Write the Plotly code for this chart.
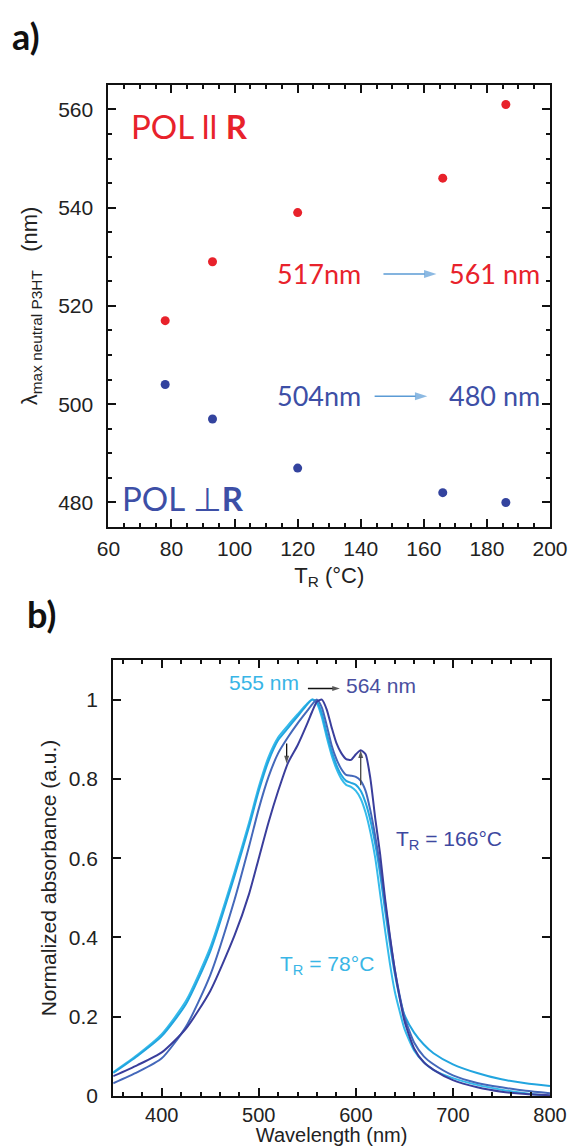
import plotly.graph_objects as go

# ---------------- panel a data ----------------
t_r = [78, 93, 120, 166, 186]
lam_par = [517, 529, 539, 546, 561]
lam_perp = [504, 497, 487, 482, 480]

# ---------------- panel b data ----------------
wavelength = [350, 375, 400, 425, 450, 475, 490, 500, 510, 520, 530, 540, 550, 555, 560,
              565, 570, 575, 580, 585, 590, 595, 600, 605, 610, 615, 620, 625, 630, 635,
              640, 645, 650, 660, 670, 680, 700, 725, 750, 775, 800]
abs_78 = [0.060, 0.104, 0.156, 0.240, 0.375, 0.565, 0.690, 0.780, 0.855, 0.905, 0.935, 0.963,
          0.990, 1.000, 0.990, 0.955, 0.905, 0.860, 0.825, 0.800, 0.785, 0.780, 0.770, 0.750,
          0.715, 0.665, 0.600, 0.510, 0.420, 0.335, 0.265, 0.215, 0.170, 0.115, 0.085, 0.066,
          0.045, 0.028, 0.016, 0.007, 0.000]
abs_93 = [0.058, 0.101, 0.151, 0.232, 0.365, 0.555, 0.680, 0.770, 0.845, 0.898, 0.928, 0.958,
          0.988, 1.000, 0.995, 0.965, 0.915, 0.870, 0.835, 0.810, 0.795, 0.790, 0.785, 0.770,
          0.740, 0.695, 0.635, 0.560, 0.470, 0.385, 0.310, 0.250, 0.205, 0.160, 0.130, 0.108,
          0.080, 0.058, 0.042, 0.032, 0.025]
abs_120 = [0.032, 0.060, 0.095, 0.175, 0.305, 0.495, 0.630, 0.725, 0.805, 0.865, 0.905, 0.940,
           0.972, 0.988, 1.000, 0.980, 0.935, 0.885, 0.850, 0.825, 0.810, 0.808, 0.805, 0.795,
           0.770, 0.720, 0.655, 0.580, 0.490, 0.400, 0.320, 0.255, 0.200, 0.135, 0.100, 0.080,
           0.052, 0.033, 0.022, 0.013, 0.007]
abs_166 = [0.050, 0.078, 0.110, 0.170, 0.265, 0.405, 0.510, 0.600, 0.690, 0.770, 0.840, 0.885,
           0.940, 0.970, 0.995, 1.000, 0.975, 0.930, 0.890, 0.865, 0.850, 0.848, 0.862, 0.872,
           0.862, 0.800, 0.700, 0.610, 0.500, 0.405, 0.320, 0.250, 0.190, 0.120, 0.085, 0.066,
           0.040, 0.022, 0.011, 0.005, 0.002]

# arrow end points (tail -> head), in data units of each panel
arrows_a = [([147.2, 164.0], [526.5, 526.5]), ([144.4, 161.1], [501.6, 501.6])]
arrows_b = [([550.6, 583.5], [1.028, 1.028], '#111111'),
            ([528.7, 528.7], [0.889, 0.839], '#111111'),
            ([605.0, 605.0], [0.784, 0.872], '#444444')]

RED = '#e8222b'
BLUE = '#33439e'
TXT_BLUE = '#3d4fa6'
ARROW_BLUE = '#5b9bd5'
C78 = '#35bbeb'
C93 = '#22a5df'
C120 = '#4468ba'
C166 = '#3a3e9c'

fig = go.Figure()

fig.add_trace(go.Scatter(x=t_r, y=lam_par, mode='markers', xaxis='x', yaxis='y',
                         marker=dict(color=RED, size=9), showlegend=False))
fig.add_trace(go.Scatter(x=t_r, y=lam_perp, mode='markers', xaxis='x', yaxis='y',
                         marker=dict(color=BLUE, size=9), showlegend=False))

for vals, col in [(abs_78, C78), (abs_93, C93), (abs_120, C120), (abs_166, C166)]:
    fig.add_trace(go.Scatter(x=wavelength, y=vals, mode='lines', xaxis='x2', yaxis='y2',
                             line=dict(color=col, width=2, shape='spline', smoothing=0.6),
                             showlegend=False, hoverinfo='skip'))

for xs, ys in arrows_a:
    fig.add_trace(go.Scatter(x=xs, y=ys, mode='lines+markers', xaxis='x', yaxis='y',
                             line=dict(color=ARROW_BLUE, width=1.5),
                             marker=dict(symbol=['circle', 'arrow'], size=[0, 13],
                                         angleref='previous', color=ARROW_BLUE,
                                         line=dict(width=0)),
                             showlegend=False, hoverinfo='skip'))
for xs, ys, col in arrows_b:
    fig.add_trace(go.Scatter(x=xs, y=ys, mode='lines+markers', xaxis='x2', yaxis='y2',
                             line=dict(color=col, width=1.3),
                             marker=dict(symbol=['circle', 'arrow'], size=[0, 8],
                                         angleref='previous', color='#111111',
                                         line=dict(width=0)),
                             showlegend=False, hoverinfo='skip'))

TICKFONT = dict(family='Liberation Sans, Arial, sans-serif', size=21, color='#222')
AX = dict(showline=True, linecolor='#111', linewidth=2, mirror='allticks', ticks='inside',
          tickcolor='#111', tickwidth=2, ticklen=8, showgrid=False, zeroline=False,
          tickfont=TICKFONT, automargin=False)
MINOR = dict(ticks='inside', ticklen=4, tickwidth=1.5, tickcolor='#111')

fig.update_layout(
    width=570, height=1146,
    margin=dict(l=0, r=0, t=0, b=0),
    paper_bgcolor='white', plot_bgcolor='white',
    xaxis=dict(AX, domain=[0.1902, 0.9649], anchor='y', range=[60, 200], tick0=60, dtick=20,
               minor=dict(MINOR, dtick=5), ticklabelstandoff=2,
               title=dict(text='T<sub>R</sub> (°C)', standoff=8,
                          font=dict(family='Liberation Sans, Arial', size=22, color='#222'))),
    yaxis=dict(AX, domain=[0.5401, 0.9260], anchor='x', range=[475, 565], tick0=480, dtick=20,
               minor=dict(MINOR, dtick=5), ticklabelstandoff=9,
               title=dict(text='λ<sub>max neutral P3HT</sub>\u00a0\u00a0\u00a0(nm)', standoff=14,
                          font=dict(family='Liberation Sans, Arial', size=22, color='#222'))),
    xaxis2=dict(AX, domain=[0.1986, 0.9649], anchor='y2', range=[350, 800], tick0=400, dtick=100,
                minor=dict(MINOR, dtick=20), ticklabelstandoff=0,
                tickfont=dict(TICKFONT, size=20),
                title=dict(text='Wavelength (nm)', standoff=2,
                           font=dict(family='Liberation Sans, Arial', size=20, color='#222'))),
    yaxis2=dict(AX, domain=[0.04363, 0.4241], anchor='x2', range=[0, 1.1],
                tickvals=[0, 0.2, 0.4, 0.6, 0.8, 1.0], ticktext=['0', '0.2', '0.4', '0.6', '0.8', '1'],
                ticklabelstandoff=9,
                title=dict(text='Normalized absorbance (a.u.)', standoff=6,
                           font=dict(family='Liberation Sans, Arial', size=21, color='#222'))),
)

CAL = 'Lato, Open Sans, sans-serif'
ann = []
ann.append(dict(text='<b>a)</b>', x=10 / 570, y=1 - 36 / 1146, xref='paper', yref='paper',
                xanchor='left', yanchor='middle', showarrow=False,
                font=dict(family=CAL, size=36, color='#111')))
ann.append(dict(text='<b>b)</b>', x=25 / 570, y=1 - 614 / 1146, xref='paper', yref='paper',
                xanchor='left', yanchor='middle', showarrow=False,
                font=dict(family=CAL, size=36, color='#111')))


def ta(text, x, y, color, size, anchor='left'):
    return dict(text=text, x=x, y=y, xref='x', yref='y', xanchor=anchor, yanchor='middle',
                showarrow=False, font=dict(family=CAL, size=size, color=color))


ann.append(ta('POL ll <b>R</b>', 66.5, 556.6, RED, 33))
ann.append(ta('POL ⊥<b>R</b>', 63.7, 480.9, TXT_BLUE, 33))
ann.append(ta('517nm', 112.7, 526.7, RED, 27))
ann.append(ta('561 nm', 167.4, 526.7, RED, 27))
ann.append(ta('504nm', 112.7, 501.7, TXT_BLUE, 27))
ann.append(ta('480 nm', 167.2, 501.7, TXT_BLUE, 27))


def tb(text, x, y, color, size=21, anchor='left'):
    return dict(text=text, x=x, y=y, xref='x2', yref='y2', xanchor=anchor, yanchor='middle',
                showarrow=False, font=dict(family='Liberation Sans, Arial', size=size, color=color))


ann.append(tb('555 nm', 505, 1.044, '#38b5e6', anchor='center'))
ann.append(tb('564 nm', 625.8, 1.035, '#4a4fa0', anchor='center'))
ann.append(tb('T<sub>R</sub> = 166°C', 639.7, 0.645, '#3d48a0'))
ann.append(tb('T<sub>R</sub> = 78°C', 519.7, 0.33, '#3ab6e6'))

fig.update_layout(annotations=ann)
fig.write_html('out.html', config={'displayModeBar': False},
               post_script="document.body.style.margin='0px';document.body.style.overflow='hidden';")
